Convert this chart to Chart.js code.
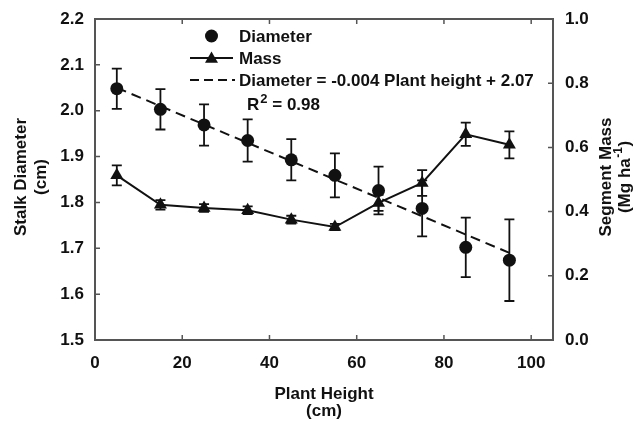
<!DOCTYPE html>
<html>
<head>
<meta charset="utf-8">
<script src="https://cdn.jsdelivr.net/npm/chart.js@4/dist/chart.umd.min.js"></script>
<style>
  html, body { margin: 0; padding: 0; background: #fff; }
  #wrap { width: 641px; height: 422px; }
</style>
</head>
<body>
<div id="wrap"><canvas id="c" width="641" height="422"></canvas></div>
<script>
// ---- data ----
const plantHeight = [5, 15, 25, 35, 45, 55, 65, 75, 85, 95];
const diameter    = [2.048, 2.003, 1.969, 1.935, 1.893, 1.859, 1.826, 1.787, 1.702, 1.674];
const diameterErr = [0.044, 0.044, 0.045, 0.046, 0.045, 0.048, 0.052, 0.061, 0.065, 0.089];
const mass        = [0.513, 0.421, 0.411, 0.404, 0.375, 0.352, 0.427, 0.489, 0.641, 0.608];
const massErr     = [0.031, 0.015, 0.012, 0.012, 0.012, 0.010, 0.025, 0.040, 0.036, 0.042];
const fitX = [5, 95];
const fitY = [2.05, 1.69];
const xTicks = [0, 20, 40, 60, 80, 100];
const yLeftTicks = [1.5, 1.6, 1.7, 1.8, 1.9, 2.0, 2.1, 2.2];
const yRightTicks = [0.0, 0.2, 0.4, 0.6, 0.8, 1.0];
const legendLabels = ['Diameter', 'Mass', 'Diameter = -0.004 Plant height + 2.07'];
const r2Label = ['R', '2', ' = 0.98'];
const xTitle = ['Plant Height', '(cm)'];
const yLeftTitle = ['Stalk Diameter', '(cm)'];
const yRightTitle = ['Segment Mass', '(Mg ha', '-1', ')'];

const FONT = '"Liberation Sans", Arial, Helvetica, sans-serif';
const INK = '#111';
const FRAME = '#555';

const toPts = (xs, ys) => xs.map((x, i) => ({x: x, y: ys[i]}));

const errorBars = {
  id: 'errorBars',
  beforeDatasetsDraw(chart) {
    const ctx = chart.ctx;
    const xs = chart.scales.x;
    const sets = [
      {vals: diameter, errs: diameterErr, scale: chart.scales.y},
      {vals: mass, errs: massErr, scale: chart.scales.y1}
    ];
    ctx.save();
    ctx.strokeStyle = INK;
    ctx.lineWidth = 1.8;
    sets.forEach(s => {
      plantHeight.forEach((h, i) => {
        const px = xs.getPixelForValue(h);
        const top = s.scale.getPixelForValue(s.vals[i] + s.errs[i]);
        const bot = s.scale.getPixelForValue(s.vals[i] - s.errs[i]);
        ctx.beginPath();
        ctx.moveTo(px, top); ctx.lineTo(px, bot);
        ctx.moveTo(px - 5, top); ctx.lineTo(px + 5, top);
        ctx.moveTo(px - 5, bot); ctx.lineTo(px + 5, bot);
        ctx.stroke();
      });
    });
    ctx.restore();
  }
};

function drawTriangle(ctx, x, y, r) {
  ctx.beginPath();
  ctx.moveTo(x, y - r);
  ctx.lineTo(x + r * Math.sin(2 * Math.PI / 3), y - r * Math.cos(2 * Math.PI / 3));
  ctx.lineTo(x + r * Math.sin(4 * Math.PI / 3), y - r * Math.cos(4 * Math.PI / 3));
  ctx.closePath();
  ctx.fill();
}

const decorations = {
  id: 'decorations',
  afterDraw(chart) {
    const ctx = chart.ctx;
    const a = chart.chartArea;
    const xs = chart.scales.x, yl = chart.scales.y, yr = chart.scales.y1;
    ctx.save();
    // frame
    ctx.strokeStyle = FRAME;
    ctx.lineWidth = 2;
    ctx.strokeRect(a.left, a.top, a.right - a.left, a.bottom - a.top);
    // inward tick marks
    ctx.lineWidth = 1.5;
    ctx.beginPath();
    xTicks.forEach(v => {
      const p = xs.getPixelForValue(v);
      ctx.moveTo(p, a.bottom); ctx.lineTo(p, a.bottom - 5);
      ctx.moveTo(p, a.top); ctx.lineTo(p, a.top + 5);
    });
    yLeftTicks.forEach(v => {
      const p = yl.getPixelForValue(v);
      ctx.moveTo(a.left, p); ctx.lineTo(a.left + 5, p);
    });
    yRightTicks.forEach(v => {
      const p = yr.getPixelForValue(v);
      ctx.moveTo(a.right, p); ctx.lineTo(a.right - 5, p);
    });
    ctx.stroke();

    // legend
    ctx.fillStyle = INK;
    ctx.strokeStyle = INK;
    ctx.font = 'bold 17px ' + FONT;
    ctx.textBaseline = 'middle';
    ctx.textAlign = 'left';
    const lx0 = 190, lx1 = 233, lmid = 211.5, tx = 239;
    ctx.beginPath(); ctx.arc(lmid, 36, 6.5, 0, Math.PI * 2); ctx.fill();
    ctx.fillText(legendLabels[0], tx, 37);
    ctx.lineWidth = 2;
    ctx.beginPath(); ctx.moveTo(lx0, 58); ctx.lineTo(lx1, 58); ctx.stroke();
    drawTriangle(ctx, lmid, 59, 7.5);
    ctx.fillText(legendLabels[1], tx, 59);
    ctx.setLineDash([9, 5]);
    ctx.beginPath(); ctx.moveTo(lx0, 80); ctx.lineTo(lx1 + 2, 80); ctx.stroke();
    ctx.setLineDash([]);
    ctx.fillText(legendLabels[2], tx, 81);
    // R^2
    ctx.textBaseline = 'alphabetic';
    let rx = 247;
    ctx.fillText(r2Label[0], rx, 110);
    rx += ctx.measureText(r2Label[0]).width;
    ctx.font = 'bold 13px ' + FONT;
    ctx.fillText(r2Label[1], rx + 1, 103);
    rx += ctx.measureText(r2Label[1]).width + 1;
    ctx.font = 'bold 17px ' + FONT;
    ctx.fillText(r2Label[2], rx, 110);

    // x title
    ctx.textAlign = 'center';
    ctx.fillText(xTitle[0], (a.left + a.right) / 2, 398.5);
    ctx.fillText(xTitle[1], (a.left + a.right) / 2, 416);

    // left title (rotated, reading upward)
    const cy = 177;
    ctx.save();
    ctx.translate(25.5, cy); ctx.rotate(-Math.PI / 2);
    ctx.fillText(yLeftTitle[0], 0, 0);
    ctx.restore();
    ctx.save();
    ctx.translate(46, cy); ctx.rotate(-Math.PI / 2);
    ctx.fillText(yLeftTitle[1], 0, 0);
    ctx.restore();

    // right title
    ctx.save();
    ctx.translate(611, cy); ctx.rotate(-Math.PI / 2);
    ctx.fillText(yRightTitle[0], 0, 0);
    ctx.restore();
    ctx.save();
    ctx.translate(630, cy); ctx.rotate(-Math.PI / 2);
    ctx.font = 'bold 17px ' + FONT;
    const w1 = ctx.measureText(yRightTitle[1]).width;
    const w3 = ctx.measureText(yRightTitle[3]).width;
    ctx.font = 'bold 12px ' + FONT;
    const w2 = ctx.measureText(yRightTitle[2]).width;
    const total = w1 + w2 + w3 + 1;
    let sx = -total / 2;
    ctx.textAlign = 'left';
    ctx.font = 'bold 17px ' + FONT;
    ctx.fillText(yRightTitle[1], sx, 0);
    sx += w1 + 0.5;
    ctx.font = 'bold 12px ' + FONT;
    ctx.fillText(yRightTitle[2], sx, -8);
    sx += w2 + 0.5;
    ctx.font = 'bold 17px ' + FONT;
    ctx.fillText(yRightTitle[3], sx, 0);
    ctx.restore();

    ctx.restore();
  }
};

const tickFont = {family: FONT, size: 17, weight: 'bold'};

new Chart(document.getElementById('c'), {
  type: 'line',
  data: {
    datasets: [
      {
        label: legendLabels[0],
        data: toPts(plantHeight, diameter),
        yAxisID: 'y',
        showLine: false,
        pointStyle: 'circle',
        pointRadius: 6.5,
        pointBackgroundColor: INK,
        pointBorderColor: INK,
        pointBorderWidth: 0
      },
      {
        label: legendLabels[1],
        data: toPts(plantHeight, mass),
        yAxisID: 'y1',
        borderColor: INK,
        borderWidth: 2,
        pointStyle: 'triangle',
        pointRadius: 7.5,
        pointBackgroundColor: INK,
        pointBorderColor: INK,
        pointBorderWidth: 0,
        tension: 0
      },
      {
        label: legendLabels[2],
        data: toPts(fitX, fitY),
        yAxisID: 'y',
        borderColor: INK,
        borderWidth: 2,
        borderDash: [10, 6],
        pointRadius: 0,
        tension: 0
      }
    ]
  },
  options: {
    responsive: false,
    devicePixelRatio: 1,
    animation: false,
    layout: {padding: {top: 19, left: 0, right: 0, bottom: 0}},
    plugins: {legend: {display: false}, tooltip: {enabled: false}},
    scales: {
      x: {
        type: 'linear',
        position: 'bottom',
        min: 0, max: 105,
        afterBuildTicks: s => { s.ticks = xTicks.map(v => ({value: v})); },
        ticks: {font: tickFont, color: INK, padding: 5, maxRotation: 0,
                callback: v => String(v)},
        grid: {display: false},
        border: {display: false},
        afterFit: s => { s.height = 82; }
      },
      y: {
        type: 'linear',
        position: 'left',
        min: 1.5, max: 2.2,
        afterBuildTicks: s => { s.ticks = yLeftTicks.map(v => ({value: v})); },
        ticks: {font: tickFont, color: INK, padding: 3,
                callback: v => Number(v).toFixed(1)},
        grid: {display: false},
        border: {display: false},
        afterFit: s => { s.width = 95; }
      },
      y1: {
        type: 'linear',
        position: 'right',
        min: 0, max: 1,
        afterBuildTicks: s => { s.ticks = yRightTicks.map(v => ({value: v})); },
        ticks: {font: tickFont, color: INK, padding: 4,
                callback: v => Number(v).toFixed(1)},
        grid: {display: false},
        border: {display: false},
        afterFit: s => { s.width = 88; }
      }
    }
  },
  plugins: [errorBars, decorations]
});
</script>
</body>
</html>
